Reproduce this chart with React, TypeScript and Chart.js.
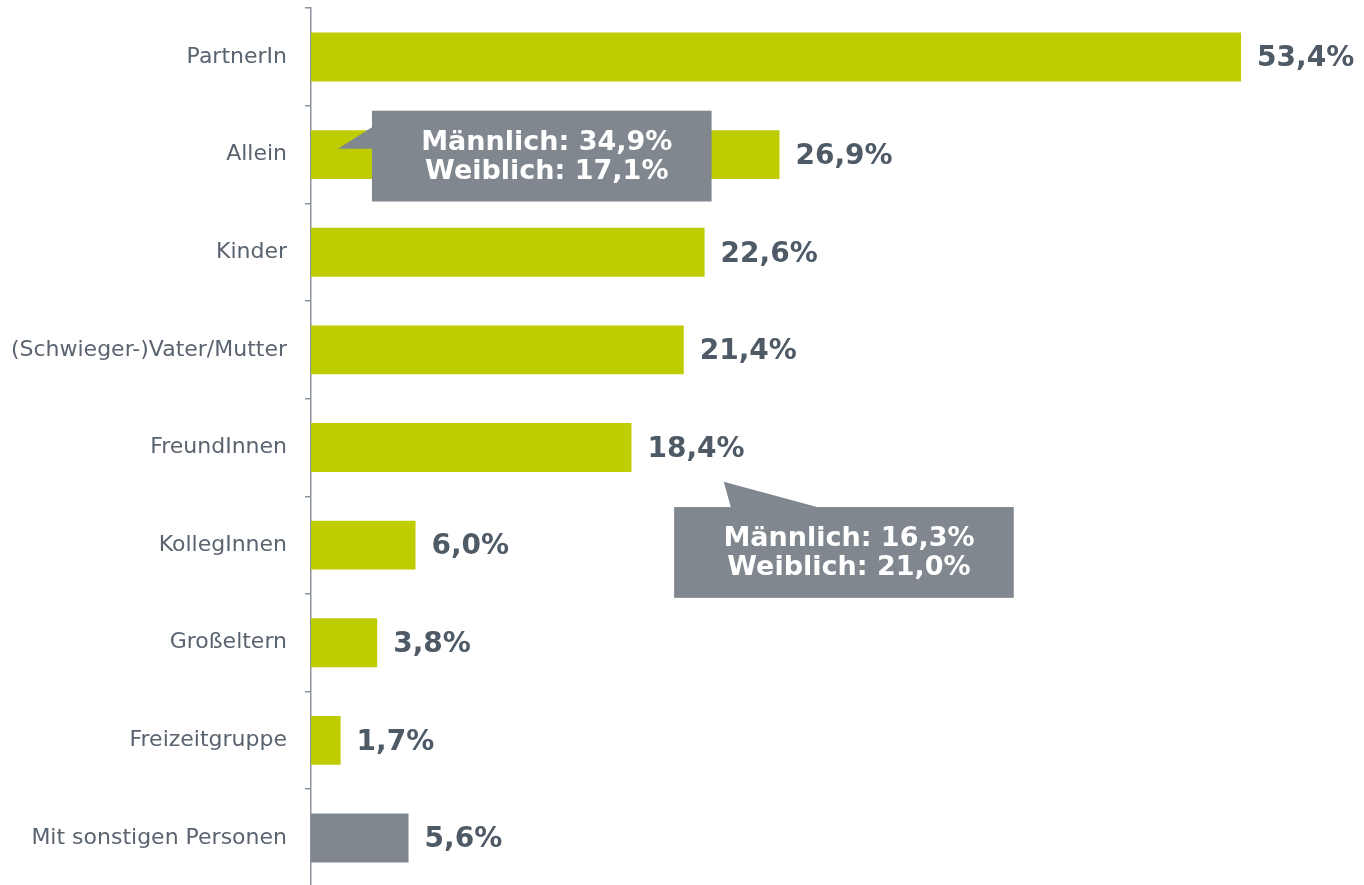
import React, { useEffect, useRef } from "react";
import { Chart, registerables } from "chart.js";

Chart.register(...registerables);

const categories = [
  "PartnerIn",
  "Allein",
  "Kinder",
  "(Schwieger-)Vater/Mutter",
  "FreundInnen",
  "KollegInnen",
  "Großeltern",
  "Freizeitgruppe",
  "Mit sonstigen Personen",
];
const values = [53.4, 26.9, 22.6, 21.4, 18.4, 6.0, 3.8, 1.7, 5.6];
const valueLabels = ["53,4%", "26,9%", "22,6%", "21,4%", "18,4%", "6,0%", "3,8%", "1,7%", "5,6%"];
const callout1Lines = ["Männlich: 34,9%", "Weiblich: 17,1%"];
const callout2Lines = ["Männlich: 16,3%", "Weiblich: 21,0%"];

const GREEN = "#bfcd00";
const GREY = "#80878f";
const TEXT = "#5a6470";
const VALUE = "#4e5a66";
const FONT = "Verdana, 'DejaVu Sans', sans-serif";

// callouts in data units: box [x0,x1] in value units, [y0,y1] in category index units
const callouts = [
  { lines: callout1Lines, x0: 3.5, x1: 23.0, y0: 0.55, y1: 1.48, pointer: [[3.5, 0.72], [1.55, 0.94], [3.5, 0.94]] },
  { lines: callout2Lines, x0: 20.85, x1: 40.35, y0: 4.61, y1: 5.54, pointer: [[24.1, 4.61], [23.7, 4.35], [29.05, 4.61]] },
];

const overlayPlugin = {
  id: "overlay",
  afterDatasetsDraw(chart: any) {
    const ctx = chart.ctx;
    const xs = chart.scales.x;
    const ys = chart.scales.y;
    const meta = chart.getDatasetMeta(0);
    ctx.save();
    ctx.font = `bold 28px ${FONT}`;
    ctx.fillStyle = VALUE;
    ctx.textAlign = "left";
    ctx.textBaseline = "middle";
    meta.data.forEach((bar: any, i: number) => {
      ctx.fillText(valueLabels[i], bar.x + 16, bar.y + 2);
    });
    const py = (v: number) => ys.getPixelForValue(v);
    callouts.forEach((c) => {
      const x0 = xs.getPixelForValue(c.x0);
      const x1 = xs.getPixelForValue(c.x1);
      const y0 = py(c.y0);
      const y1 = py(c.y1);
      ctx.fillStyle = GREY;
      ctx.fillRect(x0, y0, x1 - x0, y1 - y0);
      ctx.beginPath();
      c.pointer.forEach((p, k) => {
        const px = xs.getPixelForValue(p[0]);
        const pyy = py(p[1]);
        if (k === 0) ctx.moveTo(px, pyy);
        else ctx.lineTo(px, pyy);
      });
      ctx.closePath();
      ctx.fill();
      ctx.fillStyle = "#ffffff";
      ctx.font = `bold 27px ${FONT}`;
      ctx.textAlign = "center";
      ctx.textBaseline = "middle";
      const cx = (x0 + x1) / 2 + 5;
      const cy = (y0 + y1) / 2 + 1;
      ctx.fillText(c.lines[0], cx, cy - 14.5);
      ctx.fillText(c.lines[1], cx, cy + 14.5);
    });
    ctx.restore();
  },
};

const W = 1348;
const AREA_H = 879;

export default function App() {
  const ref = useRef<HTMLCanvasElement | null>(null);
  useEffect(() => {
    document.body.style.margin = "0";
    if (!ref.current) return;
    const canvas = ref.current;
    const chart = new Chart(canvas, {
      type: "bar",
      data: {
        labels: categories,
        datasets: [
          {
            data: values,
            backgroundColor: values.map((_, i) => (i === values.length - 1 ? GREY : GREEN)),
            barPercentage: 0.5,
            categoryPercentage: 1,
          },
        ],
      },
      options: {
        indexAxis: "y",
        animation: false,
        responsive: false,
        maintainAspectRatio: false,
        layout: { padding: 0 },
        plugins: { legend: { display: false }, tooltip: { enabled: false } },
        scales: {
          x: { display: false, min: 0, max: 60 },
          y: {
            afterFit: (s: any) => {
              s.width = 303;
            },
            border: { display: true, color: "#8c9299", width: 1.5 },
            grid: {
              display: true,
              drawOnChartArea: false,
              drawTicks: true,
              tickLength: 6,
              color: "#8c9299",
              lineWidth: 1.5,
              offset: true,
            },
            ticks: {
              color: TEXT,
              padding: 18,
              font: { family: FONT, size: 22 },
            },
          },
        },
      },
      plugins: [overlayPlugin],
    });
    // fit so the plotting area spans exactly AREA_H px starting at page y=8
    const top = chart.chartArea.top;
    const botPad = (canvas.height as number) - chart.chartArea.bottom;
    const newH = Math.round(AREA_H + top + botPad);
    chart.resize(W, newH);
    const top2 = chart.chartArea.top;
    canvas.style.top = `${8 - top2}px`;
    return () => chart.destroy();
  }, []);
  return (
    <div style={{ position: "relative", width: 1364, height: 885, overflow: "hidden" }}>
      <canvas
        ref={ref}
        width={W}
        height={AREA_H + 60}
        style={{ position: "absolute", left: 8, top: -22, display: "block", width: W, height: AREA_H + 60 }}
      />
    </div>
  );
}
